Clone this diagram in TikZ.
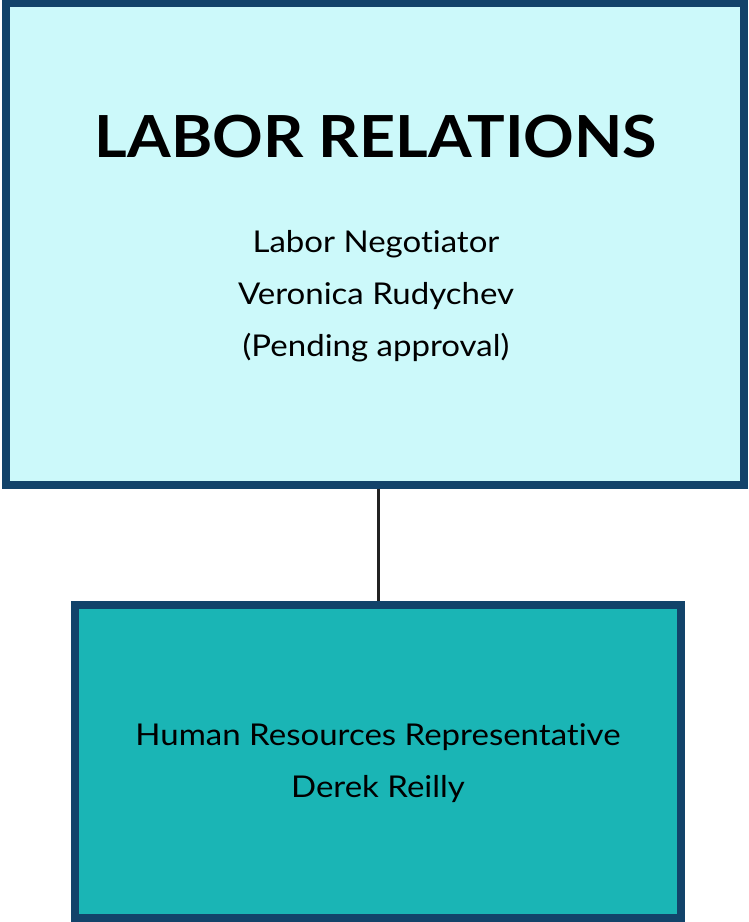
\documentclass[tikz,border=0pt]{standalone}
\usepackage{fontspec}
\setmainfont[Ligatures=NoCommon]{Lato}
\definecolor{edgeblue}{HTML}{12436A}
\definecolor{lightcyan}{HTML}{CCF9FA}
\definecolor{teal}{HTML}{1AB5B5}
\definecolor{linkcol}{HTML}{222222}
\tikzset{
  box/.style={draw=edgeblue, line width=8pt},
  txt/.style={align=center, font=\fontsize{30}{52}\selectfont, text=black, xscale=1.1},
}
\begin{document}
\begin{tikzpicture}[x=1pt,y=-1pt]
\useasboundingbox (0,0) rectangle (748,922);
\draw[box, fill=lightcyan] (6,3) rectangle (744,484.5);
\draw[box, fill=teal] (75,605) rectangle (680.5,918);
\coordinate (topb) at (378,488.5);
\coordinate (botb) at (378,601);
\node[xscale=1.083] (title) at (376,137) {\fontsize{58}{60}\selectfont\bfseries LABOR RELATIONS};
\node[txt] (upper) at (376,296) {Labor Negotiator\\Veronica Rudychev\\(Pending approval)};
\node[txt] (lower) at (378,763) {Human Resources Representative\\Derek Reilly};
\draw[linkcol, line width=3pt] (topb) -- (botb);
\end{tikzpicture}
\end{document}
